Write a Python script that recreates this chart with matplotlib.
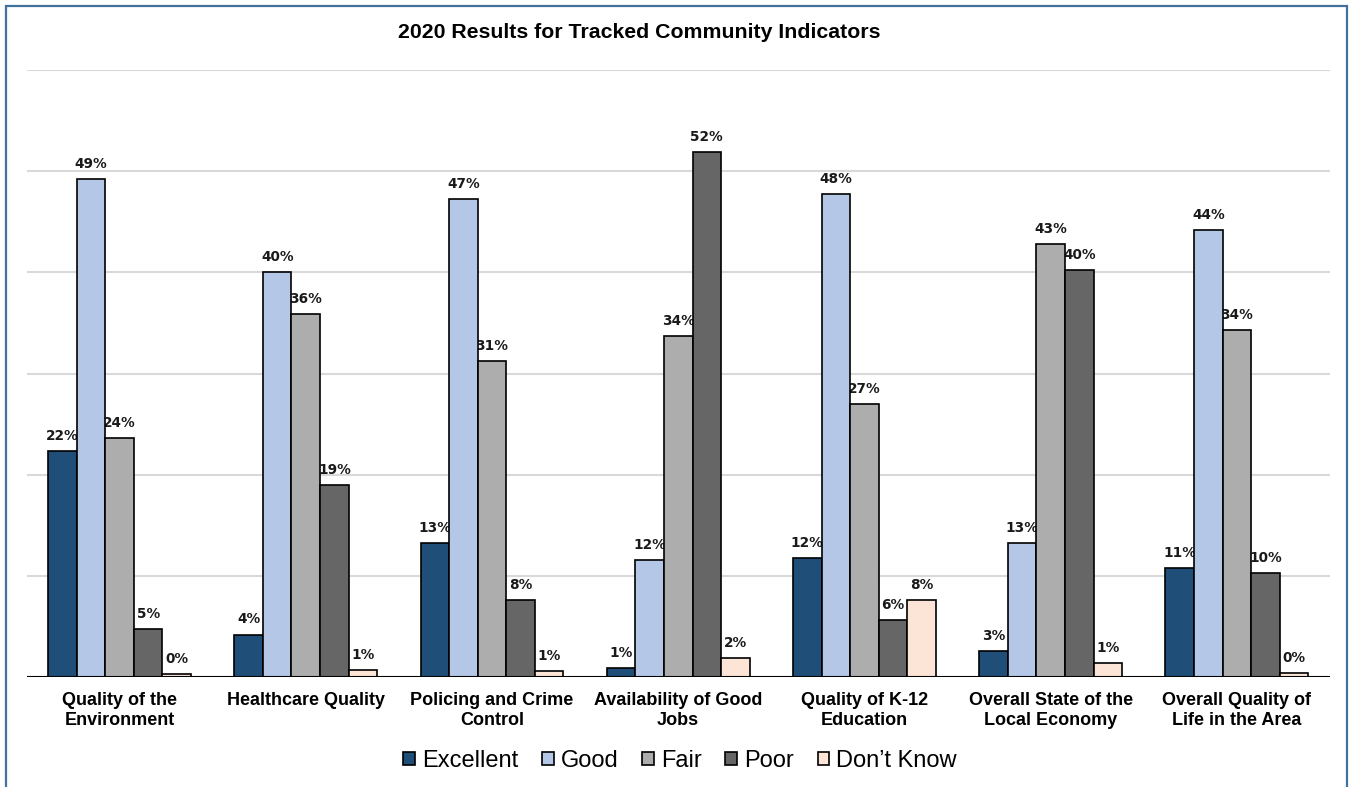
import matplotlib
matplotlib.use("Agg")
import matplotlib.pyplot as plt
from matplotlib.patches import Rectangle
import numpy as np

categories = [
    "Quality of the\nEnvironment",
    "Healthcare Quality",
    "Policing and Crime\nControl",
    "Availability of Good\nJobs",
    "Quality of K-12\nEducation",
    "Overall State of the\nLocal Economy",
    "Overall Quality of\nLife in the Area",
]
series_names = ["Excellent", "Good", "Fair", "Poor", "Don\u2019t Know"]
excellent = [22.3, 4.2, 13.2, 0.9, 11.8, 2.6, 10.8]
good = [49.2, 40.0, 47.2, 11.6, 47.7, 13.2, 44.2]
fair = [23.6, 35.9, 31.2, 33.7, 27.0, 42.8, 34.3]
poor = [4.7, 19.0, 7.6, 51.9, 5.6, 40.2, 10.3]
dont_know = [0.3, 0.7, 0.6, 1.9, 7.6, 1.4, 0.4]
series_values = [excellent, good, fair, poor, dont_know]
colors = ["#1F4E79", "#B4C7E7", "#ADADAD", "#666666", "#FCE4D6"]

W, H = 1349, 787
fig = plt.figure(figsize=(W / 100, H / 100), dpi=100)
fig.patch.set_facecolor("white")

# outer border
fig.add_artist(Rectangle((6 / W, -0.05), (1347 - 6) / W, 1 - 6 / H + 0.05,
                         transform=fig.transFigure, fill=False,
                         edgecolor="#41719C", linewidth=1.6))

ax = fig.add_axes([27 / W, 1 - 677 / H, (1330 - 27) / W, (677 - 70) / H])
ax.set_xlim(-0.497, 6.5)
ax.set_ylim(0, 60)

for y in range(10, 70, 10):
    ax.axhline(y, color="#D9D9D9", linewidth=1.5, zorder=0)
ax.axhline(0, color="black", linewidth=1.5, zorder=5)

x = np.arange(len(categories))
bw = 0.1535
for i, (name, vals, c) in enumerate(zip(series_names, series_values, colors)):
    xs = x + (i - 2) * bw
    ax.bar(xs, vals, width=bw, color=c, edgecolor="black", linewidth=1.2,
           label=name, zorder=3)
    for xi, v in zip(xs, vals):
        ax.text(xi, v + 0.8, f"{v:.0f}%", ha="center", va="bottom",
                fontsize=9.8, fontweight="bold", family="DejaVu Sans",
                color="#1a1a1a", zorder=2)

ax.set_xticks(x)
ax.set_xticklabels(categories, fontsize=13, fontweight="bold",
                   family="Liberation Sans", linespacing=1.22)
ax.tick_params(axis="x", length=0, pad=11)
ax.set_yticks([])
for s in ax.spines.values():
    s.set_visible(False)

fig.text(639 / W, 1 - 33 / H, "2020 Results for Tracked Community Indicators",
         ha="center", va="center", fontsize=15.3, fontweight="bold",
         family="Liberation Sans")

leg = fig.legend(loc="center", bbox_to_anchor=(680 / W, 1 - 761 / H), ncol=5,
                 frameon=False, prop={"family": "Liberation Sans", "size": 17},
                 handlelength=0.5, handleheight=0.5, handletextpad=0.3,
                 columnspacing=1.0, borderaxespad=0)
for h in leg.legend_handles:
    h.set_linewidth(1.2)

fig.savefig("out.png", dpi=100)
